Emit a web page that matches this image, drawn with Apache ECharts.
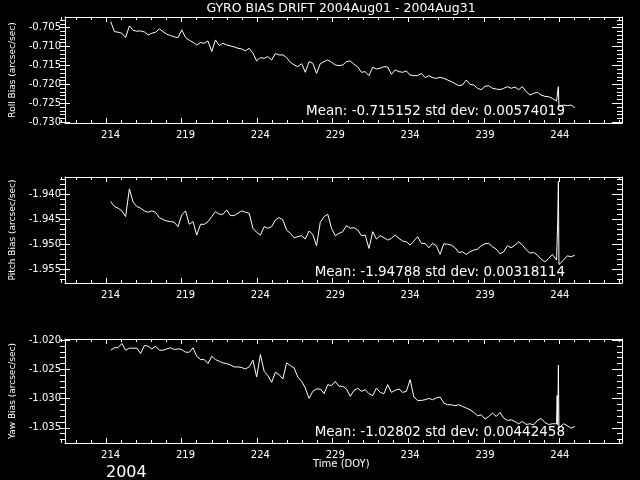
<!DOCTYPE html>
<html>
<head>
<meta charset="utf-8">
<script src="https://cdn.jsdelivr.net/npm/echarts@6/dist/echarts.min.js"></script>
<style>
  html, body { margin: 0; padding: 0; background: #000; }
  #chart { width: 640px; height: 480px; }
</style>
</head>
<body>
<div id="chart"></div>
<script>
// time axis (day of year 2004), 0.25 day steps with a few extra samples round the glitch
const spikeDoy = [243.78, 243.82, 243.86, 243.90, 243.94]
const doy = []
for (let d = 214; d <= 243.5; d += 0.25) doy.push(d)
doy.push(...spikeDoy)
for (let d = 244; d <= 245; d += 0.25) doy.push(d)

const xMajor = [214, 219, 224, 229, 234, 239, 244]

const rollBias = [
  -0.70340, -0.70605, -0.70623, -0.70649, -0.70764, -0.70455, -0.70570, -0.70596, -0.70587, -0.70614,
  -0.70693, -0.70649, -0.70623, -0.70534, -0.70605, -0.70676, -0.70711, -0.70746, -0.70764, -0.70561,
  -0.70764, -0.70834, -0.70887, -0.70958, -0.70896, -0.70914, -0.70852, -0.71134, -0.70826, -0.70975,
  -0.70914, -0.70958, -0.70984, -0.71011, -0.71046, -0.71064, -0.71117, -0.71046, -0.71178, -0.71381,
  -0.71293, -0.71311, -0.71267, -0.71355, -0.71187, -0.71222, -0.71222, -0.71293, -0.71416, -0.71487,
  -0.71531, -0.71452, -0.71681, -0.71399, -0.71443, -0.71708, -0.71452, -0.71399, -0.71355, -0.71416,
  -0.71487, -0.71505, -0.71487, -0.71399, -0.71381, -0.71469, -0.71540, -0.71681, -0.71663, -0.71769,
  -0.71549, -0.71593, -0.71575, -0.71531, -0.71540, -0.71734, -0.71619, -0.71663, -0.71681, -0.71646,
  -0.71752, -0.71769, -0.71769, -0.71708, -0.71822, -0.71769, -0.71822, -0.71840, -0.71813, -0.71840,
  -0.71884, -0.71928, -0.71981, -0.72034, -0.72016, -0.71884, -0.71999, -0.72016, -0.72104, -0.72140,
  -0.72051, -0.72034, -0.72104, -0.72122, -0.72140, -0.72104, -0.72060, -0.72104, -0.72069, -0.72140,
  -0.72060, -0.72193, -0.72281, -0.72237, -0.72210, -0.72281, -0.72316, -0.72325, -0.72369,
  -0.72440, -0.72457, -0.72475, -0.72060, -0.72590,
  -0.72563, -0.72545, -0.72563, -0.72545, -0.72616
]

const pitchBias = [
  -1.94140, -1.94241, -1.94274, -1.94328, -1.94442, -1.93886, -1.94154, -1.94241, -1.94274, -1.94328,
  -1.94355, -1.94328, -1.94355, -1.94462, -1.94502, -1.94529, -1.94542, -1.94556, -1.94643, -1.94408,
  -1.94328, -1.94596, -1.94542, -1.94811, -1.94596, -1.94596, -1.94542, -1.94442, -1.94341, -1.94395,
  -1.94395, -1.94308, -1.94422, -1.94422, -1.94375, -1.94328, -1.94355, -1.94375, -1.94676, -1.94757,
  -1.94811, -1.94643, -1.94676, -1.94643, -1.94509, -1.94462, -1.94509, -1.94710, -1.94777, -1.94864,
  -1.94844, -1.94824, -1.94891, -1.94730, -1.94797, -1.95025, -1.94556, -1.94442, -1.94395, -1.94676,
  -1.94824, -1.94777, -1.94744, -1.94623, -1.94676, -1.94663, -1.94710, -1.94824, -1.94811, -1.95079,
  -1.94744, -1.94891, -1.94824, -1.94864, -1.94911, -1.94878, -1.94811, -1.94878, -1.94931, -1.94945,
  -1.95012, -1.94931, -1.94844, -1.94978, -1.94978, -1.95065, -1.94978, -1.95025, -1.95199, -1.94985,
  -1.94998, -1.95012, -1.95065, -1.95159, -1.95146, -1.95199, -1.95146, -1.95112, -1.95092, -1.95025,
  -1.94985, -1.94978, -1.95045, -1.95092, -1.95186, -1.95146, -1.95025, -1.95065, -1.95012, -1.94945,
  -1.95012, -1.95105, -1.95173, -1.95159, -1.95213, -1.95293, -1.95347, -1.95280, -1.95199,
  -1.95313, -1.95333, -1.94509, -1.93738, -1.95400,
  -1.95360, -1.95313, -1.95226, -1.95246, -1.95213
]

const yawBias = [
  -1.02172, -1.02131, -1.02126, -1.02057, -1.02172, -1.02137, -1.02137, -1.02137, -1.02229, -1.02091,
  -1.02103, -1.02149, -1.02103, -1.02172, -1.02172, -1.02149, -1.02131, -1.02160, -1.02149, -1.02160,
  -1.02206, -1.02206, -1.02131, -1.02275, -1.02332, -1.02332, -1.02401, -1.02275, -1.02332, -1.02361,
  -1.02389, -1.02401, -1.02424, -1.02458, -1.02458, -1.02469, -1.02492, -1.02458, -1.02343, -1.02630,
  -1.02246, -1.02532, -1.02607, -1.02721, -1.02550, -1.02590, -1.02664, -1.02389, -1.02435, -1.02475,
  -1.02630, -1.02704, -1.02819, -1.02996, -1.02876, -1.02836, -1.02836, -1.02916, -1.02761, -1.02779,
  -1.02704, -1.02790, -1.02790, -1.02836, -1.02962, -1.02859, -1.02824, -1.02876, -1.02847, -1.02916,
  -1.02950, -1.02819, -1.02893, -1.02916, -1.02761, -1.02893, -1.02859, -1.02836, -1.02893, -1.02876,
  -1.02676, -1.02973, -1.03031, -1.03031, -1.03019, -1.02996, -1.03019, -1.02990, -1.02973, -1.03076,
  -1.03105, -1.03105, -1.03122, -1.03105, -1.03134, -1.03162, -1.03191, -1.03237, -1.03294, -1.03277,
  -1.03351, -1.03305, -1.03248, -1.03305, -1.03237, -1.03334, -1.03374, -1.03363, -1.03391, -1.03431,
  -1.03391, -1.03443, -1.03431, -1.03449, -1.03374, -1.03340, -1.03409, -1.03443, -1.03431,
  -1.03431, -1.02945, -1.03449, -1.02429, -1.03506,
  -1.03477, -1.03431, -1.03466, -1.03506, -1.03477
]

const rollTicks = [-0.730, -0.725, -0.720, -0.715, -0.710, -0.705]
const pitchTicks = [-1.955, -1.950, -1.945, -1.940]
const yawTicks = [-1.035, -1.030, -1.025, -1.020]

const panelNames = ['Roll Bias (arcsec/sec)', 'Pitch Bias (arcsec/sec)', 'Yaw Bias (arcsec/sec)']
const statTexts = [
  'Mean: -0.715152 std dev: 0.00574019',
  'Mean: -1.94788 std dev: 0.00318114',
  'Mean: -1.02802 std dev: 0.00442458'
]

const FONT = 'DejaVu Sans'
const WHITE = '#ffffff'

// panel layout
const panels = [
  { top: 17, height: 106, yMin: -0.7302, yMax: -0.7022, major: rollTicks, minorFrom: -0.730, minorTo: -0.702, data: rollBias, statY: 111 },
  { top: 177, height: 106, yMin: -1.9577, yMax: -1.9365, major: pitchTicks, minorFrom: -1.957, minorTo: -1.937, data: pitchBias, statY: 272 },
  { top: 339, height: 104, yMin: -1.0376, yMax: -1.0198, major: yawTicks, minorFrom: -1.037, minorTo: -1.020, data: yawBias, statY: 432 }
]

const BOX_L = 60
const BOX_W = 562
const xMin = 210.95
const xMax = 248.15
const xMinor = []
for (let d = 211; d <= 248; d++) xMinor.push(d)

const grid = []
const xAxis = []
const yAxis = []
const series = []

// ticks pointing into the box: drawn as outward ticks of an axis on a thin neighbouring grid
const tickOpt = (len, values) => ({
  show: true, inside: false, length: len, customValues: values, lineStyle: { color: WHITE, width: 1 }
})
const hidden = gi => ({ gridIndex: gi, type: 'value', show: false, min: 0, max: 1 })

panels.forEach((p, g) => {
  const yMinor = []
  for (let i = Math.round(p.minorFrom * 1000); i <= Math.round(p.minorTo * 1000); i++) yMinor.push(i / 1000)

  // main box
  const gi = grid.length
  grid.push({ left: BOX_L, top: p.top, width: BOX_W, height: p.height, show: false })
  const xMain = xAxis.length
  xAxis.push({
    gridIndex: gi, type: 'value', min: xMin, max: xMax, position: 'bottom',
    splitLine: { show: false },
    axisLine: { show: true, onZero: false, lineStyle: { color: WHITE, width: 1 } },
    axisTick: { show: false },
    axisLabel: { show: true, customValues: xMajor, color: WHITE, fontSize: 10, fontFamily: FONT, margin: 7 }
  })
  xAxis.push({
    gridIndex: gi, type: 'value', min: xMin, max: xMax, position: 'top',
    splitLine: { show: false },
    axisLine: { show: true, onZero: false, lineStyle: { color: WHITE, width: 1 } },
    axisTick: { show: false },
    axisLabel: { show: false }
  })
  const yMain = yAxis.length
  yAxis.push({
    gridIndex: gi, type: 'value', min: p.yMin, max: p.yMax, position: 'left',
    splitLine: { show: false },
    axisLine: { show: true, onZero: false, lineStyle: { color: WHITE, width: 1 } },
    axisTick: { show: false },
    axisLabel: {
      show: true, customValues: p.major, color: WHITE, fontSize: 10, fontFamily: FONT, margin: 4,
      formatter: v => v.toFixed(3)
    },
    name: panelNames[g],
    nameLocation: 'middle',
    nameRotate: 90,
    nameGap: 48,
    nameTextStyle: { color: WHITE, fontSize: 9, fontFamily: FONT }
  })
  yAxis.push({
    gridIndex: gi, type: 'value', min: p.yMin, max: p.yMax, position: 'right',
    splitLine: { show: false },
    axisLine: { show: true, onZero: false, lineStyle: { color: WHITE, width: 1 } },
    axisTick: { show: false },
    axisLabel: { show: false }
  })

  // y ticks along the left and right edges
  const sides = [
    { left: 0, width: BOX_L, position: 'right' },
    { left: BOX_L + BOX_W, width: 640 - BOX_L - BOX_W, position: 'left' }
  ]
  sides.forEach(s => {
    const tg = grid.length
    grid.push({ left: s.left, top: p.top, width: s.width, height: p.height, show: false })
    xAxis.push(hidden(tg))
    ;[[10, p.major], [5, yMinor]].forEach(([len, vals]) => {
      yAxis.push({
        gridIndex: tg, type: 'value', min: p.yMin, max: p.yMax, position: s.position,
        splitLine: { show: false }, axisLine: { show: false, onZero: false }, axisLabel: { show: false },
        axisTick: tickOpt(len, vals)
      })
    })
  })

  // x ticks along the top and bottom edges
  const edges = [
    { top: p.top - 10, position: 'bottom' },
    { top: p.top + p.height, position: 'top' }
  ]
  edges.forEach(e => {
    const tg = grid.length
    grid.push({ left: BOX_L, top: e.top, width: BOX_W, height: 10, show: false })
    yAxis.push(hidden(tg))
    ;[[5, xMajor], [3, xMinor]].forEach(([len, vals]) => {
      xAxis.push({
        gridIndex: tg, type: 'value', min: xMin, max: xMax, position: e.position,
        splitLine: { show: false }, axisLine: { show: false, onZero: false }, axisLabel: { show: false },
        axisTick: tickOpt(len, vals)
      })
    })
  })

  series.push({
    type: 'line',
    xAxisIndex: xMain,
    yAxisIndex: yMain,
    data: p.data.map((v, i) => [doy[i], v]),
    showSymbol: false,
    symbol: 'none',
    lineStyle: { color: WHITE, width: 1 },
    silent: true
  })
})

const graphic = [
  {
    type: 'text', x: 341, y: 2,
    style: { text: 'GYRO BIAS DRIFT 2004Aug01 - 2004Aug31', fill: WHITE, font: '12.5px "DejaVu Sans"', textAlign: 'center' }
  },
  {
    type: 'text', x: 313, y: 459,
    style: { text: 'Time (DOY)', fill: WHITE, font: '10px "DejaVu Sans"' }
  },
  {
    type: 'text', x: 106, y: 465,
    style: { text: '2004', fill: WHITE, font: '16px "DejaVu Sans"' }
  }
]
panels.forEach((p, g) => {
  graphic.push({
    type: 'text', x: 565, y: p.statY,
    style: { text: statTexts[g], fill: WHITE, font: '13.5px "DejaVu Sans"', textAlign: 'right', textVerticalAlign: 'middle' }
  })
})

const chart = echarts.init(document.getElementById('chart'))
chart.setOption({
  backgroundColor: '#000000',
  animation: false,
  grid,
  xAxis,
  yAxis,
  series,
  graphic
})
</script>
</body>
</html>
